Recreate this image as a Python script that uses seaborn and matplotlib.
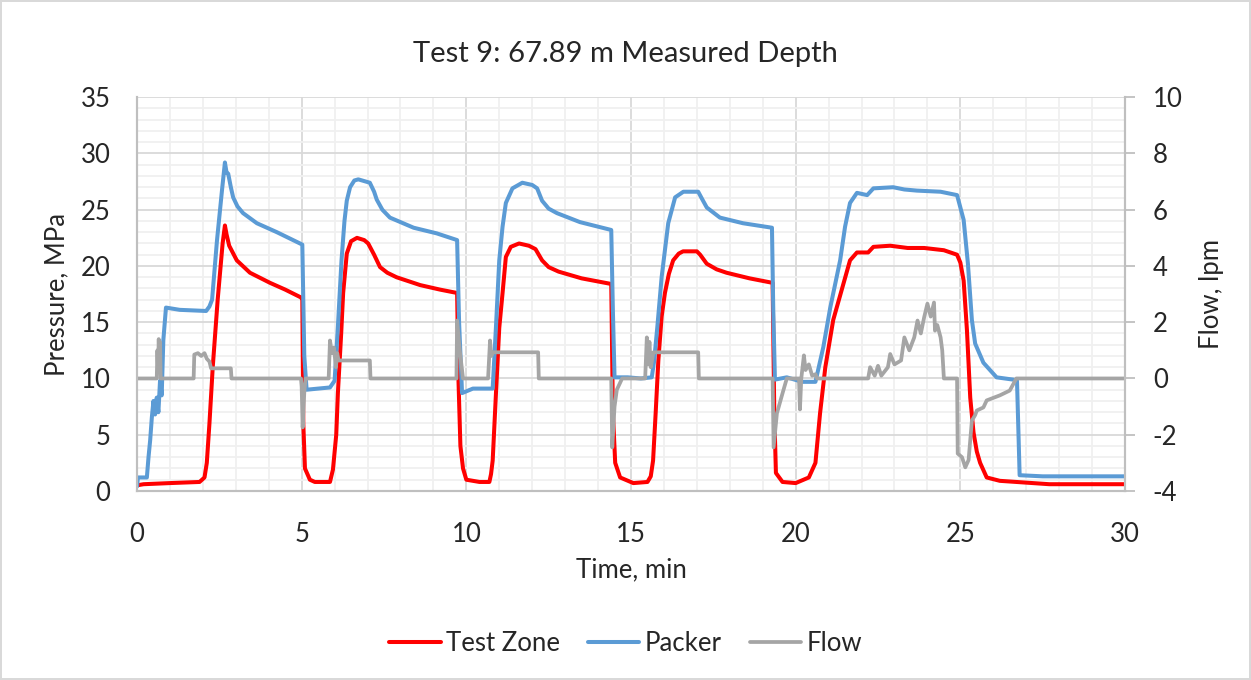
import matplotlib
matplotlib.use('Agg')
import matplotlib.pyplot as plt
from matplotlib.ticker import MultipleLocator
import seaborn as sns

# Test zone pressure (MPa) vs time (min)
tz_time = [0, 0.2, 1.0, 1.9, 2.05, 2.12, 2.2, 2.3, 2.45, 2.6, 2.67, 2.72, 2.8, 3.03, 3.43, 4.04, 4.5, 4.98,
           5.02, 5.05, 5.1, 5.25, 5.4, 5.86, 5.95, 6.05, 6.1, 6.2, 6.26, 6.37, 6.5, 6.68, 6.9, 7.02, 7.2, 7.38,
           7.6, 7.88, 8.6, 9.2, 9.72, 9.76, 9.82, 9.9, 10.0, 10.4, 10.7, 10.75, 10.8, 10.9, 11.0, 11.1, 11.2,
           11.35, 11.6, 11.9, 12.1, 12.2, 12.3, 12.5, 12.8, 13.5, 14.4, 14.45, 14.52, 14.67, 15.07, 15.5,
           15.6, 15.67, 15.75, 15.83, 15.93, 16.03, 16.15, 16.28, 16.45, 16.58, 17.0, 17.1, 17.3, 17.6, 17.9,
           18.6, 19.3, 19.35, 19.4, 19.6, 20.0, 20.4, 20.6, 20.74, 20.9, 21.14, 21.4, 21.65, 21.86, 22.2,
           22.36, 22.87, 23.4, 23.9, 24.5, 24.9, 25.0, 25.1, 25.2, 25.3, 25.4, 25.5, 25.6, 25.8, 26.2, 26.7,
           27.7, 30]
tz_press = [0.5, 0.6, 0.7, 0.8, 1.2, 2.5, 6.0, 11.0, 17.0, 22.0, 23.6, 22.8, 21.8, 20.5, 19.4, 18.5, 17.9, 17.2,
            17.0, 6.0, 2.0, 1.0, 0.8, 0.8, 1.9, 5.0, 8.7, 14.0, 17.6, 21.1, 22.2, 22.5, 22.3, 22.0, 21.0, 19.9,
            19.4, 19.0, 18.3, 17.9, 17.6, 10.0, 4.0, 2.0, 1.0, 0.8, 0.8, 1.5, 2.7, 8.7, 14.5, 17.6, 20.8,
            21.7, 22.0, 21.8, 21.5, 21.0, 20.5, 19.9, 19.5, 18.9, 18.4, 7.0, 2.5, 1.2, 0.7, 0.8,
            1.3, 2.7, 7.0, 11.6, 15.5, 17.6, 19.3, 20.5, 21.1, 21.3, 21.3, 21.0, 20.2, 19.7, 19.4,
            18.9, 18.5, 7.0, 1.6, 0.8, 0.7, 1.2, 2.5, 6.9, 11.0, 15.2, 17.9, 20.5, 21.2, 21.2,
            21.7, 21.8, 21.6, 21.6, 21.4, 21.0, 20.3, 18.7, 14.3, 8.3, 5.2, 3.5, 2.5, 1.2, 0.9, 0.8,
            0.6, 0.6]

# Packer pressure (MPa)
pk_time = [0, 0.03, 0.3, 0.35, 0.4, 0.45, 0.5, 0.55, 0.6, 0.65, 0.7, 0.75, 0.8, 0.88, 1.3, 2.1, 2.2, 2.28, 2.43,
           2.58, 2.67, 2.72, 2.77, 2.85, 2.92, 3.05, 3.22, 3.64, 4.25, 4.95, 5.02, 5.08, 5.15, 5.5, 5.86, 6.0,
           6.1, 6.21, 6.3, 6.37, 6.47, 6.6, 6.72, 7.07, 7.2, 7.28, 7.45, 7.68, 8.4, 9.1, 9.72, 9.78, 9.87, 10.2,
           10.8, 10.9, 11.0, 11.1, 11.2, 11.4, 11.7, 12.0, 12.15, 12.3, 12.5, 12.75, 13.45, 14.4, 14.45, 14.5,
           14.9, 15.3, 15.63, 15.7, 15.8, 15.93, 16.13, 16.34, 16.59, 17.04, 17.15, 17.3, 17.7, 18.4, 19.28,
           19.32, 19.37, 19.73, 20.2, 20.6, 20.84, 21.05, 21.35, 21.5, 21.65, 21.86, 22.17, 22.36, 22.96,
           23.3, 23.68, 24.4, 24.9, 25.1, 25.23, 25.35, 25.45, 25.7, 26.1, 26.6, 26.72, 26.8, 27.5, 30]
pk_press = [0.4, 1.2, 1.2, 3.0, 4.5, 6.5, 8.0, 6.8, 8.3, 7.0, 9.8, 8.5, 13.4, 16.3, 16.1, 16.0, 16.4, 17.0, 22.3,
            26.7, 29.2, 28.3, 28.2, 27.0, 26.1, 25.3, 24.7, 23.8, 23.0, 22.0, 21.9, 12.0, 9.0, 9.1, 9.2, 9.8,
            14.6, 20.5, 24.0, 25.8, 27.0, 27.6, 27.7, 27.4, 26.6, 25.9, 25.0, 24.3, 23.4, 22.9, 22.3, 15.0, 8.7, 9.1,
            9.1, 14.6, 20.5, 23.5, 25.6, 26.9, 27.4, 27.2, 26.9, 25.8, 25.1, 24.7, 23.9, 23.2, 16.0, 10.1,
            10.1, 10.0, 10.1, 11.5, 14.6, 19.0, 23.8, 26.1, 26.6, 26.6, 26.0, 25.2, 24.3, 23.8, 23.4,
            16.0, 9.9, 10.1, 9.7, 9.7, 12.8, 16.3, 20.5, 23.5, 25.6, 26.5, 26.3, 26.9, 27.0,
            26.8, 26.7, 26.6, 26.3, 24.1, 20.2, 15.2, 13.1, 11.4, 10.1, 9.9, 9.8, 1.4, 1.3, 1.3]

# Flow (lpm), secondary axis
fl_time = [0, 0.6, 0.62, 0.64, 0.66, 0.68, 0.7, 0.72, 1.72, 1.74, 1.85, 1.95, 2.05, 2.12, 2.2, 2.25, 2.85, 2.87,
           4.98, 5.0, 5.03, 5.08, 5.12, 5.82, 5.86, 5.92, 5.98, 6.04, 6.08, 6.12, 7.07, 7.09, 9.7, 9.72, 9.8,
           9.9, 10.66, 10.72, 10.76, 10.8, 12.18, 12.2, 14.4, 14.43, 14.5, 14.57, 14.73, 15.43, 15.48, 15.52,
           15.56, 15.6, 15.68, 17.04, 17.06, 19.3, 19.33, 19.43, 19.6, 19.73, 20.1, 20.13, 20.17, 20.25, 20.3,
           20.4, 20.5, 20.6, 20.65, 22.2, 22.26, 22.4, 22.5, 22.6, 22.8, 22.87, 23.0, 23.2, 23.3, 23.45, 23.6,
           23.7, 23.8, 23.9, 24.0, 24.1, 24.2, 24.23, 24.3, 24.4, 24.45, 24.5, 24.9, 24.92, 25.05, 25.15,
           25.25, 25.35, 25.45, 25.5, 25.7, 25.8, 26.2, 26.5, 26.7, 30]
fl_rate = [0, 0, 1.0, 0.3, 1.4, 0.5, 1.3, 0, 0, 0.85, 0.9, 0.8, 0.9, 0.7, 0.6, 0.36, 0.36, 0,
           0, -0.3, -1.74, -0.5, 0, 0, 1.35, 0.9, 1.1, 0.4, 0.9, 0.64, 0.64, 0, 0, 2.06, 1.0,
           0, 0, 1.35, 0.8, 0.93, 0.93, 0, 0, -2.45, -1.0, -0.4, 0, 0, 1.46, 0.5,
           1.3, 0.4, 0.93, 0.93, 0, 0, -2.45, -1.24, -0.53, 0, 0, -1.1, 0, 0.82, 0.3,
           0.5, 0.1, 0.15, 0, 0, 0.4, 0.1, 0.45, 0.1, 0.4, 0.87, 0.5, 0.64, 1.46, 1.0, 1.46,
           2.06, 1.6, 2.17, 2.66, 2.2, 2.7, 1.7, 1.9, 1.46, 1.0, 0, 0, -2.67, -2.8, -3.16,
           -2.9, -1.5, -1.3, -1.14, -1.03, -0.78, -0.6, -0.43, 0, 0]

sns.set_style('white')
plt.rcParams['font.family'] = ['Lato', 'DejaVu Sans']
plt.rcParams['axes.unicode_minus'] = False

fig = plt.figure(figsize=(12.51, 6.8), dpi=100)
fig.patch.set_edgecolor('#D9D9D9')
fig.patch.set_linewidth(1.5)
ax = fig.add_axes([0.1095, 0.278, 0.7898, 0.579])

sns.lineplot(x=tz_time, y=tz_press, ax=ax, color='#FF0000', lw=2.9, sort=False, estimator=None, label='Test Zone')
sns.lineplot(x=pk_time, y=pk_press, ax=ax, color='#5B9BD5', lw=2.9, sort=False, estimator=None, label='Packer')

ax2 = ax.twinx()
sns.lineplot(x=fl_time, y=fl_rate, ax=ax2, color='#A5A5A5', lw=2.7, sort=False, estimator=None, label='Flow')

ax.set_xlim(0, 30)
ax.set_ylim(0, 35)
ax2.set_ylim(-4, 10)
ax.xaxis.set_major_locator(MultipleLocator(5))
ax.xaxis.set_minor_locator(MultipleLocator(1))
ax.yaxis.set_major_locator(MultipleLocator(5))
ax.yaxis.set_minor_locator(MultipleLocator(1))
ax2.yaxis.set_major_locator(MultipleLocator(2))

ax.grid(which='major', color='#D9D9D9', lw=1.3)
ax.grid(which='minor', color='#F0F0F0', lw=1.3)
ax.set_axisbelow(True)

for a in (ax, ax2):
    for s in a.spines.values():
        s.set_color('#BFBFBF')
        s.set_linewidth(1.5)
    a.spines['top'].set_visible(False)

ax.tick_params(axis='both', which='both', length=0, labelsize=18.5)
ax.tick_params(axis='y', pad=19)
ax.tick_params(axis='x', pad=22)
ax2.tick_params(axis='y', which='major', length=7, width=1.3, color='#BFBFBF', labelsize=18.5, pad=13)

ax.set_xlabel('Time, min', fontsize=18.5, labelpad=8)
ax.set_ylabel('Pressure, MPa', fontsize=18.5, labelpad=8)
ax2.set_ylabel('Flow, lpm', fontsize=18.5, labelpad=12)
fig.suptitle('Test 9: 67.89 m Measured Depth', fontsize=21, y=0.94)

h1, l1 = ax.get_legend_handles_labels()
h2, l2 = ax2.get_legend_handles_labels()
ax.get_legend().remove()
ax2.get_legend().remove()
fig.legend(h1 + h2, l1 + l2, loc='center', bbox_to_anchor=(0.5, 0.054), ncol=3, frameon=False,
           fontsize=18.5, handlelength=2.0, handletextpad=0.2, columnspacing=1.1)

fig.savefig('out.png', dpi=100)
